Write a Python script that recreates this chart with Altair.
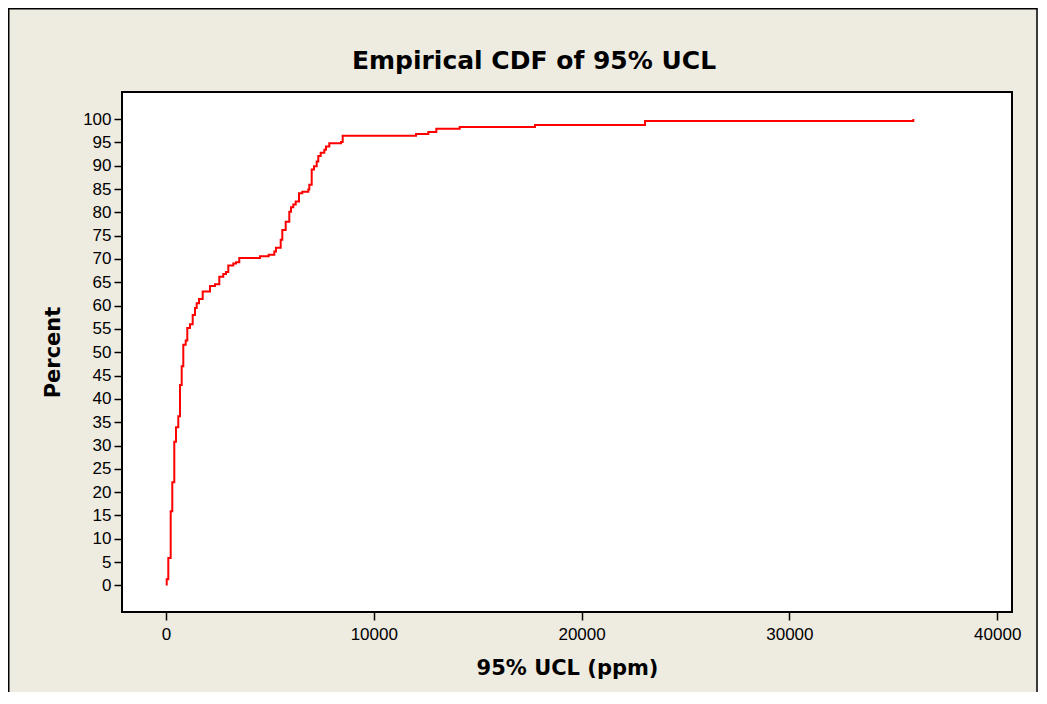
import altair as alt
import pandas as pd

# Step vertices of the empirical CDF (95% UCL in ppm, cumulative percent)
ucl_ppm = [34, 34, 111, 226, 303, 399, 481, 592, 674, 756, 833, 948, 1025, 1155, 1285,
           1396, 1477, 1588, 1766, 2117, 2358, 2565, 2757, 2887, 2998, 3239, 3369, 3527,
           4524, 4940, 5212, 5294, 5520, 5597, 5760, 5934, 6015, 6126, 6242, 6400, 6559,
           6848, 6896, 7012, 7122, 7252, 7329, 7445, 7618, 7700, 7859, 8422, 8503, 12031,
           12623, 13008, 14134, 17757, 23051, 35962]
cum_percent = [0.0, 1.3, 5.9, 15.9, 22.1, 30.8, 33.9, 36.3, 43.0, 47.0, 51.6, 52.5, 55.2,
               56.0, 58.0, 59.5, 60.5, 61.4, 63.0, 64.2, 64.6, 66.2, 66.8, 67.2, 68.6, 69.0,
               69.3, 70.2, 70.6, 70.9, 71.6, 72.4, 74.1, 76.2, 78.0, 80.1, 81.1, 81.7, 82.3,
               84.1, 84.4, 84.9, 85.9, 89.2, 89.9, 90.9, 92.1, 92.8, 93.4, 94.1, 94.8, 95.1,
               96.4, 96.8, 97.2, 97.9, 98.3, 98.7, 99.6, 100.0]

x_ticks = [0, 10000, 20000, 30000, 40000]
y_ticks = list(range(0, 101, 5))
chart_title = "Empirical CDF of 95% UCL"

df = pd.DataFrame({"ucl": ucl_ppm, "pct": cum_percent, "i": list(range(len(ucl_ppm)))})

W, H = 890, 520
PL, PT, PR, PB = 114, 84, 26, 80

line = alt.Chart(df).mark_line(
    interpolate="step-after", color="#FF0000", strokeWidth=2
).encode(
    x=alt.X("ucl:Q", title="95% UCL (ppm)",
            scale=alt.Scale(domain=[-2117, 40712], nice=False, zero=False),
            axis=alt.Axis(values=x_ticks, format="d", grid=False, domain=False,
                          tickSize=8, tickWidth=1.5, tickColor="black",
                          labelFont="Liberation Sans", labelFontSize=17, labelColor="black",
                          labelPadding=6, titleFont="DejaVu Sans", titleFontSize=21,
                          titleFontWeight="bold", titleColor="black", titlePadding=15)),
    y=alt.Y("pct:Q", title="Percent",
            scale=alt.Scale(domain=[-5.7, 105.8], nice=False, zero=False),
            axis=alt.Axis(values=y_ticks, grid=False, domain=False,
                          tickSize=8, tickWidth=1.5, tickColor="black",
                          labelFont="Liberation Sans", labelFontSize=17, labelColor="black",
                          labelPadding=3, titleFont="DejaVu Sans", titleFontSize=21,
                          titleFontWeight="bold", titleColor="black", titlePadding=19)),
    order=alt.Order("i:Q"),
)

title_text = alt.Chart(pd.DataFrame({"t": [chart_title]})).mark_text(
    font="DejaVu Sans", fontSize=25, fontWeight="bold", color="black",
    align="center", baseline="alphabetic"
).encode(
    text="t:N", x=alt.value(534 - 122), y=alt.value(69 - 92),
)

frame = alt.Chart(pd.DataFrame({"a": [0]})).mark_rect(
    fillOpacity=0, stroke="black", strokeWidth=1.5
).encode(
    x=alt.value(-PL + 0.75), x2=alt.value(W + PR - 1.0),
    y=alt.value(-PT + 0.75), y2=alt.value(H + PB + 30),
)

chart = alt.layer(line, title_text, frame).properties(
    width=W, height=H,
    autosize=alt.AutoSizeParams(type="none"),
    padding={"left": PL, "top": PT, "right": PR, "bottom": PB},
    background="#EEEBE1",
).configure_view(fill="white", stroke="black", strokeWidth=2)

chart.save("out.html", embed_options={"renderer": "svg", "actions": False})
